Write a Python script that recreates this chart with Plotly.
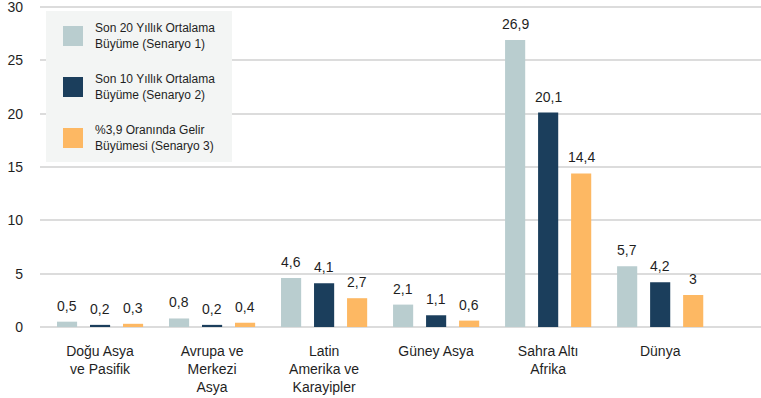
import plotly.graph_objects as go

# Regions (x-axis categories, line breaks for wrapped labels)
regions = [
    "Doğu Asya<br>ve Pasifik",
    "Avrupa ve<br>Merkezi<br>Asya",
    "Latin<br>Amerika ve<br>Karayipler",
    "Güney Asya",
    "Sahra Altı<br>Afrika",
    "Dünya",
]

# Scenario names
scenario_names = [
    "Son 20 Yıllık Ortalama<br>Büyüme (Senaryo 1)",
    "Son 10 Yıllık Ortalama<br>Büyüme (Senaryo 2)",
    "%3,9 Oranında Gelir<br>Büyümesi (Senaryo 3)",
]

# Values per scenario
scenario_1 = [0.5, 0.8, 4.6, 2.1, 26.9, 5.7]
scenario_2 = [0.2, 0.2, 4.1, 1.1, 20.1, 4.2]
scenario_3 = [0.3, 0.4, 2.7, 0.6, 14.4, 3.0]

colors = ["#b9cdcf", "#1b3e5c", "#fdb863"]

y_ticks = [0, 5, 10, 15, 20, 25, 30]

FONT = "Liberation Sans, Arial, sans-serif"
TEXT_COLOR = "#1f1f1f"

series = [scenario_1, scenario_2, scenario_3]

fig = go.Figure()
for name, vals, col in zip(scenario_names, series, colors):
    fig.add_trace(go.Bar(
        x=regions, y=vals, name=name, marker=dict(color=col, line=dict(width=0)),
        showlegend=False,
    ))


def fmt(v):
    return f"{v:g}".replace(".", ",")


# value labels above each bar
offsets = [-33, 0, 33]
annotations = []
for vals, dx in zip(series, offsets):
    for cat, v in zip(regions, vals):
        annotations.append(dict(
            x=cat, y=v, xref="x", yref="y", text=fmt(v), showarrow=False,
            xshift=dx, yshift=6, yanchor="bottom",
            font=dict(family=FONT, size=14, color=TEXT_COLOR),
        ))

# legend panel drawn with shapes and annotations
W, H = 761, 398
ML, MR, MT, MB = 40, 0, 4, 71
pw, ph = W - ML - MR, H - MT - MB


def px(x):
    return (x - ML) / pw


def py(y):
    return 1 - (y - MT) / ph


shapes = [dict(type="rect", xref="paper", yref="paper",
               x0=px(46), x1=px(232), y0=py(162), y1=py(11),
               fillcolor="#f3f5f4", line=dict(width=0), layer="above")]
for i, (name, col) in enumerate(zip(scenario_names, colors)):
    top = 26 + 51 * i
    shapes.append(dict(type="rect", xref="paper", yref="paper",
                       x0=px(63), x1=px(83), y0=py(top + 20), y1=py(top),
                       fillcolor=col, line=dict(width=0), layer="above"))
    annotations.append(dict(
        x=px(93), y=py(top + 10), xref="paper", yref="paper", text=name,
        showarrow=False, xanchor="left", yanchor="middle", align="left",
        font=dict(family=FONT, size=12, color=TEXT_COLOR),
    ))

fig.update_layout(
    width=W, height=H,
    margin=dict(l=ML, r=MR, t=MT, b=MB),
    paper_bgcolor="white", plot_bgcolor="white",
    barmode="group", bargap=0.116, bargroupgap=0.39,
    font=dict(family=FONT, size=14, color=TEXT_COLOR),
    shapes=shapes, annotations=annotations,
    xaxis=dict(
        range=[-0.536, 5.9], showgrid=False, showline=False, zeroline=False,
        ticks="", tickfont=dict(size=14, color=TEXT_COLOR),
        ticklabelstandoff=14,
    ),
    yaxis=dict(
        range=[0, 30.28], tickvals=y_ticks, showgrid=True, gridcolor="#dcdcdc",
        gridwidth=1.5, zeroline=True, zerolinecolor="#dcdcdc", zerolinewidth=1.5,
        showline=False, ticks="", tickfont=dict(size=14, color=TEXT_COLOR),
        ticklabelstandoff=16, ticklabeloverflow="allow",
    ),
)

fig.write_html("out.html")
